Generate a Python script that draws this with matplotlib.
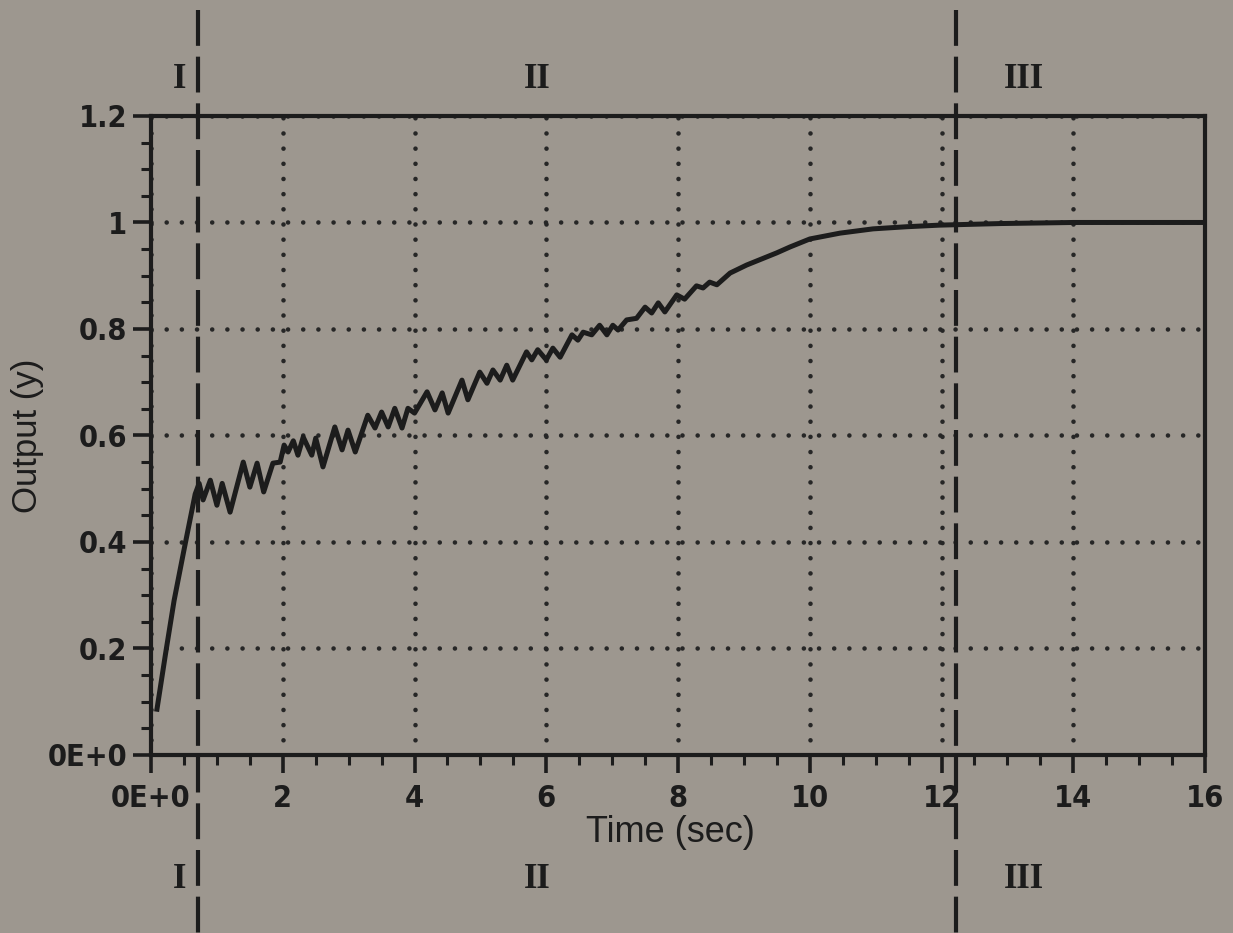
import matplotlib
matplotlib.use("Agg")
import matplotlib.pyplot as plt
from matplotlib.ticker import MultipleLocator, FixedLocator, FixedFormatter
from matplotlib import font_manager

# step response (time in sec, output y)
t_data = [0.09, 0.22, 0.35, 0.50, 0.67, 0.73, 0.79, 0.90, 1.00, 1.08, 1.20,
          1.40, 1.50, 1.61, 1.71, 1.85, 1.96, 2.02, 2.08, 2.16, 2.23, 2.31,
          2.44, 2.50, 2.61, 2.79, 2.90, 2.99, 3.10, 3.29, 3.40, 3.50, 3.60,
          3.70, 3.81, 3.90, 4.00, 4.19, 4.31, 4.42, 4.51, 4.72, 4.81, 4.99,
          5.10, 5.19, 5.30, 5.40, 5.49, 5.70, 5.78, 5.87, 6.00, 6.10, 6.21,
          6.39, 6.48, 6.56, 6.69, 6.81, 6.92, 7.01, 7.09, 7.22, 7.37, 7.50,
          7.60, 7.70, 7.80, 7.98, 8.10, 8.28, 8.38, 8.48, 8.59, 8.79, 9.04,
          9.24, 9.50, 9.70, 10.0, 10.46, 10.96, 11.47, 11.97, 12.9, 14.0, 16.0]
y_data = [0.086, 0.19, 0.29, 0.385, 0.49, 0.51, 0.479, 0.516, 0.469, 0.51, 0.456,
          0.55, 0.503, 0.548, 0.494, 0.548, 0.55, 0.582, 0.569, 0.59, 0.563, 0.597,
          0.563, 0.595, 0.541, 0.616, 0.573, 0.61, 0.569, 0.638, 0.614, 0.644, 0.616,
          0.651, 0.614, 0.651, 0.642, 0.682, 0.648, 0.68, 0.642, 0.704, 0.667, 0.719,
          0.698, 0.723, 0.704, 0.732, 0.704, 0.757, 0.742, 0.761, 0.742, 0.764, 0.747,
          0.789, 0.779, 0.794, 0.789, 0.807, 0.789, 0.807, 0.798, 0.817, 0.82, 0.841,
          0.83, 0.849, 0.832, 0.864, 0.856, 0.881, 0.877, 0.888, 0.883, 0.905, 0.92,
          0.93, 0.943, 0.954, 0.969, 0.98, 0.988, 0.992, 0.995, 0.998, 1.0, 1.0]

# region boundaries and labels
region_bounds = [0.72, 12.22]
region_names = ["I", "II", "III"]
region_label_t = [0.44, 5.86, 13.25]

x_ticks = [0, 2, 4, 6, 8, 10, 12, 14, 16]
x_ticklabels = ["0E+0", "2", "4", "6", "8", "10", "12", "14", "16"]
y_ticks = [0, 0.2, 0.4, 0.6, 0.8, 1.0, 1.2]
y_ticklabels = ["0E+0", "0.2", "0.4", "0.6", "0.8", "1", "1.2"]

installed = {f.name for f in font_manager.fontManager.ttflist}
if "Liberation Sans Narrow" in installed:
    tick_font = dict(family="Liberation Sans Narrow", weight="bold", size=25)
else:
    tick_font = dict(family="DejaVu Sans", stretch="condensed", weight="bold", size=22)
label_font = dict(family="Liberation Sans", size=26)
roman_font = dict(family="Liberation Serif", weight="bold", size=25)

bg = "#9d978f"
ink = "#1c1c1c"

fig = plt.figure(figsize=(12.33, 9.33), dpi=100, facecolor=bg)
ax = fig.add_axes([0.1225, 0.1908, 0.8548, 0.6849])
ax.set_facecolor(bg)

ax.plot(t_data, y_data, color=ink, lw=3.6, solid_joinstyle="round", zorder=4)

ax.set_xlim(0, 16)
ax.set_ylim(0, 1.2)

ax.xaxis.set_major_locator(FixedLocator(x_ticks))
ax.xaxis.set_major_formatter(FixedFormatter(x_ticklabels))
ax.yaxis.set_major_locator(FixedLocator(y_ticks))
ax.yaxis.set_major_formatter(FixedFormatter(y_ticklabels))
ax.xaxis.set_minor_locator(MultipleLocator(0.5))
ax.yaxis.set_minor_locator(MultipleLocator(0.05))

ax.tick_params(which="major", direction="out", length=13, width=2.6, color=ink,
               top=False, right=False)
ax.tick_params(which="minor", direction="out", length=7, width=2.2, color=ink,
               top=False, right=False)
ax.tick_params(axis="x", which="major", pad=8)
ax.tick_params(axis="y", which="major", pad=4)
for lab in ax.get_xticklabels() + ax.get_yticklabels():
    lab.set(color=ink, **tick_font)

for s in ax.spines.values():
    s.set_linewidth(3)
    s.set_color(ink)

# dotted grid
ax.grid(True, which="major", color="#262626", linewidth=3.3,
        linestyle=(0, (0.01, 3.3)), dash_capstyle="round", zorder=1)
ax.set_axisbelow(True)

# dashed region boundaries running past the axes
for b in region_bounds:
    ax.plot([b, b], [1.166, -0.28], transform=ax.get_xaxis_transform(),
            clip_on=False, color=ink, lw=3, dashes=(8.6, 2.6), zorder=5)

# roman numerals above and below
for name, tl in zip(region_names, region_label_t):
    ax.text(tl, 1.0563, name, transform=ax.get_xaxis_transform(),
            ha="center", va="center", color=ink, **roman_font)
    ax.text(tl, -0.195, name, transform=ax.get_xaxis_transform(),
            ha="center", va="center", color=ink, **roman_font)

fig.text(0.544, 1 - 833 / 933, "Time (sec)", ha="center", va="center",
         color=ink, **label_font)
fig.text(0.022, 0.533, "Output (y)", ha="center", va="center", rotation=90,
         color=ink, family="Liberation Sans", size=25)

fig.savefig("out.png", dpi=100, facecolor=bg)
